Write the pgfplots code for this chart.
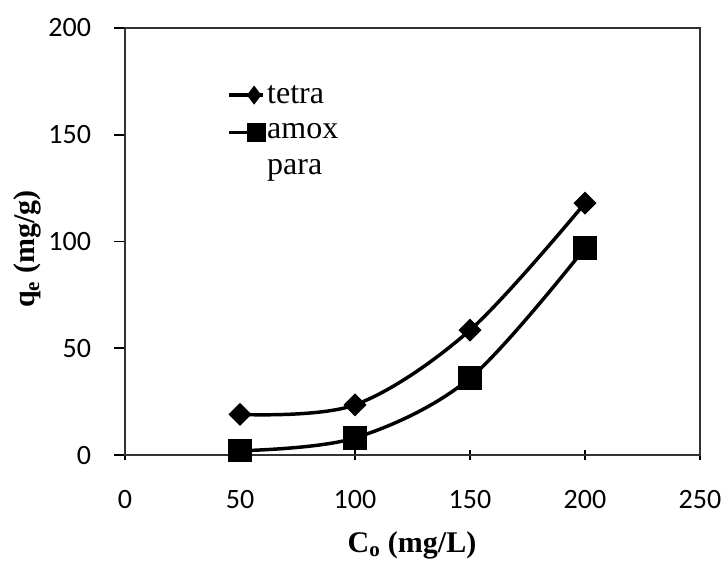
\documentclass[border=0pt]{standalone}
\usepackage{fontspec}
\setmainfont{Liberation Serif}
\newfontfamily\calibri{Carlito}
\usepackage{pgfplots}
\pgfplotsset{compat=1.18}
\begin{document}
\begin{tikzpicture}
\begin{axis}[
  scale only axis,
  width=431.25pt, height=320.25pt,
  xmin=0, xmax=250, ymin=0, ymax=200,
  clip=false,
  xtick={0,50,100,150,200,250},
  ytick={0,50,100,150,200},
  xtick pos=bottom, ytick pos=left,
  xtick align=center, ytick align=outside,
  major tick length=8pt,
  axis line style={line width=1pt, black!80},
  tick style={line width=1.2pt, black},
  /pgf/number format/assume math mode=true,
  tick label style={font=\calibri\fontsize{21}{25}\selectfont},
  xticklabel shift=19pt,
  yticklabel shift=14pt,
  xlabel={\textbf{C\textsubscript{o} (mg/L)}},
  ylabel={\textbf{q\textsubscript{e} (mg/g)}},
  every axis x label/.style={at={(rel axis cs:0.499,-0.211)}, anchor=center, font=\fontsize{22.5}{26}\selectfont},
  every axis y label/.style={at={(rel axis cs:-0.169,0.482)}, anchor=center, rotate=90, font=\fontsize{22.5}{26}\selectfont},
  legend style={draw=none, fill=none, at={(rel axis cs:0.177,0.87)}, anchor=north west,
    font=\fontsize{24}{28}\selectfont, row sep=12pt, inner sep=0pt,
    nodes={inner sep=1pt},
    /tikz/every even column/.append style={column sep=0pt},
    /tikz/every odd column/.append style={column sep=0pt}},
  legend cell align=left,
]
\addplot[black, line width=2.6pt, smooth, tension=0.55, mark=square*, mark size=5.6pt, mark options={fill=black, rotate=45, line width=1pt}, forget plot]
  coordinates {(50,19) (100,23.5) (150,58.5) (200,118)};
\addplot[black, line width=2.6pt, smooth, tension=0.55, mark=square*, mark size=8.3pt, mark options={fill=black, line width=1pt}, forget plot]
  coordinates {(50,2) (100,8) (150,36) (200,97)};
\addlegendimage{legend image code/.code={
  \draw[black, line width=2.6pt] (0pt,0pt) -- (26pt,0pt);
  \draw[black, fill=black, line width=0.8pt] plot[only marks, mark=diamond*, mark size=6.5pt] coordinates {(19pt,0pt)};}}
\addlegendentry{tetra}
\addlegendimage{legend image code/.code={
  \draw[black, line width=2.6pt] (0pt,0pt) -- (26pt,0pt);
  \draw[black, fill=black, line width=0.8pt] plot[only marks, mark=square*, mark size=6.8pt] coordinates {(21pt,0pt)};}}
\addlegendentry{amox}
\addlegendimage{empty legend}
\addlegendentry{para}
\path (rel axis cs:-0.2174,-0.2436) rectangle (rel axis cs:1.0452,1.0656);
\end{axis}
\end{tikzpicture}
\end{document}
